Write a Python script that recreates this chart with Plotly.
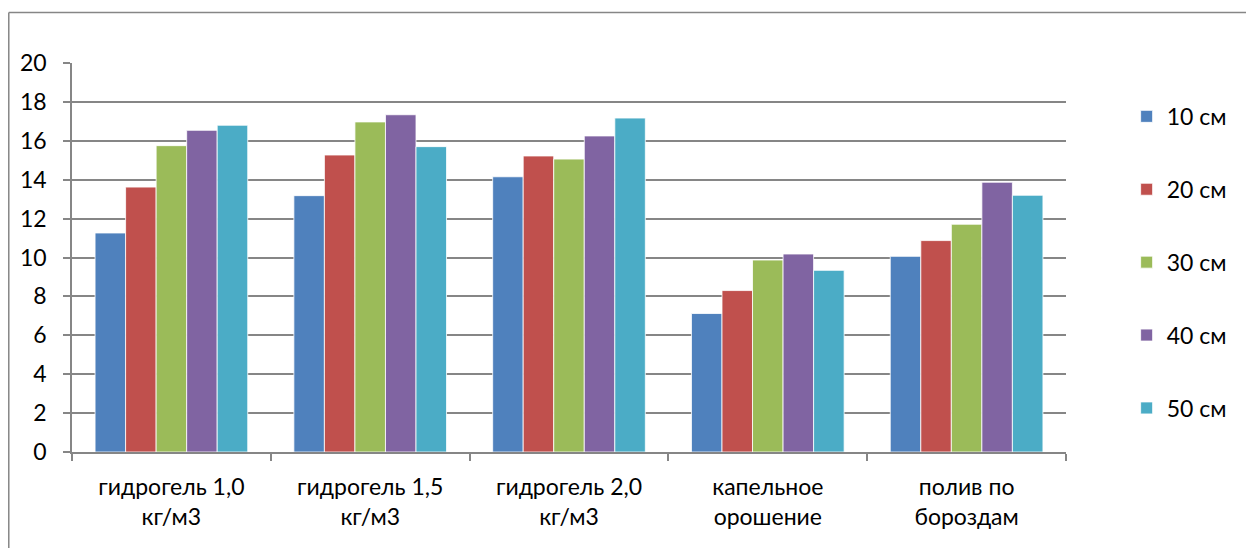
import plotly.graph_objects as go

categories = ["гидрогель 1,0<br>кг/м3", "гидрогель 1,5<br>кг/м3", "гидрогель 2,0<br>кг/м3",
              "капельное<br>орошение", "полив по<br>бороздам"]
series_names = ["10 см", "20 см", "30 см", "40 см", "50 см"]
values_10 = [11.26, 13.18, 14.15, 7.12, 10.06]
values_20 = [13.62, 15.27, 15.22, 8.30, 10.87]
values_30 = [15.75, 16.97, 15.06, 9.87, 11.71]
values_40 = [16.54, 17.34, 16.25, 10.18, 13.87]
values_50 = [16.80, 15.70, 17.17, 9.34, 13.20]
colors = ["#4F81BD", "#C0504D", "#9BBB59", "#8064A2", "#4BACC6"]
y_ticks = [0, 2, 4, 6, 8, 10, 12, 14, 16, 18, 20]

FONT = "Lato"
FS = 23
fig = go.Figure()
for name, vals, col in zip(series_names, [values_10, values_20, values_30, values_40, values_50], colors):
    fig.add_trace(go.Bar(x=categories, y=vals, name=name, legendgroup=name,
                         marker=dict(color=col, line=dict(color="rgba(255,255,255,0.8)", width=1))))

grid = "#868686"
fig.update_layout(
    width=1238, height=540,
    margin=dict(l=64, r=180, t=55, b=96),
    paper_bgcolor="white", plot_bgcolor="white",
    barmode="group", bargap=0.232, bargroupgap=0,
    font=dict(family=FONT, size=FS, color="black"),
    legend=dict(x=1.061, y=0.918, xanchor="left", yanchor="top",
                tracegroupgap=40, font=dict(size=FS, family=FONT),
                itemclick=False),
    showlegend=True,
    shapes=[
        dict(type="line", xref="paper", yref="paper", x0=-0.0636, x1=1.25, y0=1.130, y1=1.130,
             line=dict(color=grid, width=1.5)),
        dict(type="line", xref="paper", yref="paper", x0=-0.0636, x1=-0.0636, y0=-0.3, y1=1.130,
             line=dict(color=grid, width=1.5)),
    ],
)
fig.update_xaxes(type="category", showline=True, linecolor=grid, linewidth=1.5,
                 ticks="outside", tickson="boundaries", ticklen=7, tickcolor=grid, tickwidth=1.5,
                 showgrid=False, ticklabelstandoff=14, tickfont=dict(size=FS, family=FONT))
fig.update_yaxes(range=[0, 20], tickvals=y_ticks, showline=True, linecolor=grid, linewidth=1.5,
                 ticks="outside", ticklen=7, tickcolor=grid, tickwidth=1.5,
                 showgrid=True, gridcolor=grid, gridwidth=1.5, zeroline=False,
                 ticklabelstandoff=12, tickfont=dict(size=FS, family=FONT))

fig.write_html("out.html")
